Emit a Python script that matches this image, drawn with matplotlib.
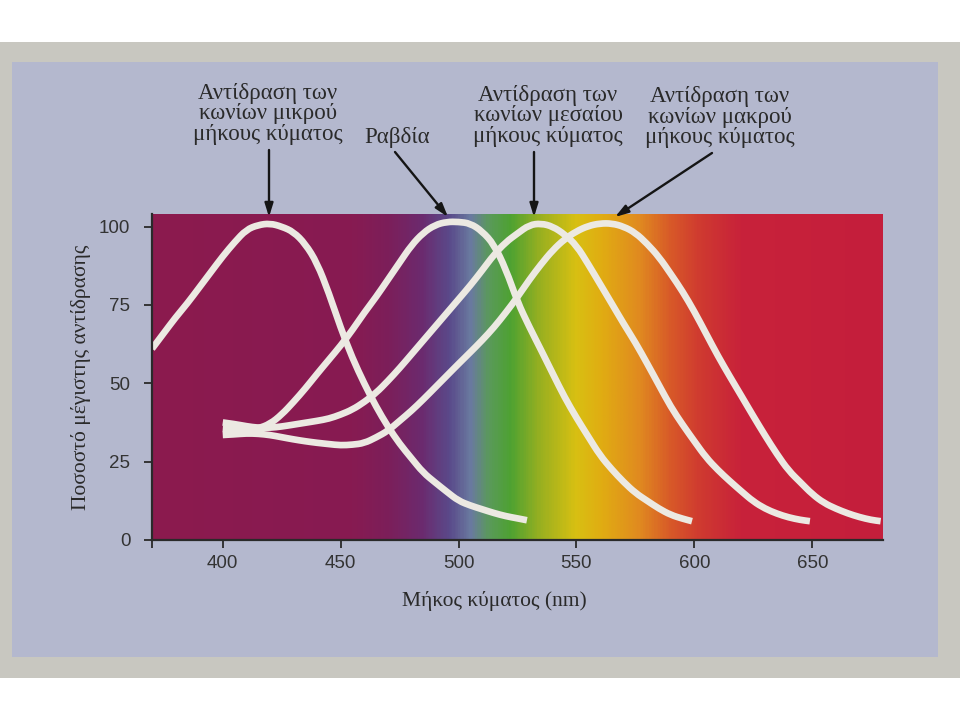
import matplotlib.pyplot as plt
import numpy as np
from matplotlib.colors import LinearSegmentedColormap
from matplotlib.patches import PathPatch, Rectangle
from matplotlib.path import Path

# wavelength grids (nm) and relative response (%)
s_nm = [370, 375, 380, 385, 390, 395, 400, 405, 410, 415, 420, 425, 430, 435,
        440, 445, 450, 455, 460, 465, 470, 475, 480, 485, 490, 495, 500, 505,
        510, 515, 520, 525, 529]
s_resp = [61, 66, 71, 75.5, 80.5, 85.5, 90.5, 95, 99, 100.5, 101, 100, 98.3, 94.5,
          88.4, 78.8, 67.7, 58, 49.9, 42.6, 36.2, 30.7, 26.1, 21.5, 18.4, 15.4, 12.5, 11,
          9.8, 8.6, 7.6, 6.9, 6.3]

rod_nm = [400, 405, 410, 415, 420, 425, 430, 435, 440, 445, 450, 455, 460, 465,
          470, 475, 480, 485, 490, 495, 500, 505, 510, 515, 520, 525, 530, 535,
          540, 545, 550, 555, 560, 565, 570, 575, 580, 585, 590, 595, 599]
rod_resp = [35.5, 35.2, 35, 35.6, 37, 40, 44, 48.3, 53, 57.5, 62, 67, 72.5, 77.5,
            83, 88.5, 94, 98, 100.5, 101.5, 101.5, 101, 98.5, 94.3, 86.5, 76, 68, 60.6,
            53, 45.5, 39, 33, 27, 22.5, 18.5, 15, 12.5, 10, 8, 6.8, 6]

m_nm = [400, 405, 410, 415, 420, 425, 430, 435, 440, 445, 450, 455, 460, 465,
        470, 475, 480, 485, 490, 495, 500, 505, 510, 515, 520, 525, 530, 535,
        540, 545, 550, 555, 560, 565, 570, 575, 580, 585, 590, 595, 600, 605,
        610, 615, 620, 625, 630, 635, 640, 645, 649]
m_resp = [37.5, 37, 36.3, 35.8, 35.8, 36.2, 36.8, 37.4, 38, 38.7, 40, 41.6, 44, 46.9,
          50.7, 54.8, 59.2, 63.6, 68, 72.4, 76.8, 81.2, 86, 91, 95, 97.8, 100.5, 101,
          100, 97.5, 94, 88, 81.7, 75.4, 69, 63, 56.3, 49.4, 42.5, 36.8, 31.5, 26.3,
          22.3, 18.8, 15.5, 12.3, 10, 8.4, 7.2, 6.4, 6]

l_nm = [400, 405, 410, 415, 420, 425, 430, 435, 440, 445, 450, 455, 460, 465,
        470, 475, 480, 485, 490, 495, 500, 505, 510, 515, 520, 525, 530, 535,
        540, 545, 550, 555, 560, 565, 570, 575, 580, 585, 590, 595, 600, 605,
        610, 615, 620, 625, 630, 635, 640, 645, 650, 655, 660, 665, 670, 675, 679]
l_resp = [33.5, 33.7, 34, 33.9, 33.5, 32.8, 32.1, 31.5, 31, 30.6, 30.2, 30.4, 30.9, 32.7,
          34.8, 38, 41.2, 44.8, 48.6, 52.4, 56.2, 59.9, 63.7, 67.8, 72.5, 77.5, 83, 88,
          92.5, 96, 98.5, 100.2, 101, 101, 100, 98, 94.5, 90.3, 84.9, 79.3, 72.9, 65.8,
          58.7, 52.2, 45.9, 39.5, 33.3, 27.4, 22.1, 18.4, 14.6, 11.8, 10, 8.5, 7.3, 6.4, 6]

# spectrum colour stops behind the curves
spec_nm = [370, 455, 470, 484, 496, 505, 513, 522, 535, 550, 560, 577, 590, 603, 620, 680]
spec_col = ["#8c1a4e", "#871b52", "#7c1f5a", "#6c2a6e", "#5a4a8a", "#6a7aa0", "#5a9a5a",
            "#4ea232", "#9ab020", "#d8c012", "#e0ae12", "#e08a20", "#d85a28", "#cf3a30",
            "#c8223a", "#c41e3c"]

xticks = [400, 450, 500, 550, 600, 650]
yticks = [0, 25, 50, 75, 100]

labels = [
    ("Αντίδραση των\nκωνίων μικρού\nμήκους κύματος", (268, 114), (269, 150), (269, 217)),
    ("Ραβδία", (397, 137), (395, 152), (448, 217)),
    ("Αντίδραση των\nκωνίων μεσαίου\nμήκους κύματος", (548, 116), (534, 152), (534, 217)),
    ("Αντίδραση των\nκωνίων μακρού\nμήκους κύματος", (720, 117), (712, 153), (615, 217)),
]

SERIF = ["Liberation Serif", "DejaVu Serif"]
SANS = ["Liberation Sans", "DejaVu Sans"]


def smooth_path(xs, ys):
    # quadratic bezier through the read points, drawn in data space
    pts = np.column_stack([xs, ys]).astype(float)
    verts = [pts[0]]
    codes = [Path.MOVETO]
    for i in range(1, len(pts) - 1):
        verts += [pts[i], (pts[i] + pts[i + 1]) / 2]
        codes += [Path.CURVE3, Path.CURVE3]
    verts.append(pts[-1])
    codes.append(Path.LINETO)
    return Path(verts, codes)


fig = plt.figure(figsize=(9.6, 7.2), dpi=100)
fig.patch.set_facecolor("white")

# paper and the tinted panel of the photographed page
fig.add_artist(Rectangle((0, 42 / 720), 1, 636 / 720, transform=fig.transFigure,
                         facecolor="#c8c7c0", edgecolor="none", zorder=-3))
fig.add_artist(Rectangle((12 / 960, 63 / 720), 926 / 960, 595 / 720, transform=fig.transFigure,
                         facecolor="#b4b8ce", edgecolor="none", zorder=-2))

ax = fig.add_axes([152 / 960, 180 / 720, 731 / 960, 326 / 720])
ax.set_facecolor("none")

xmin, xmax, ymin, ymax = 370, 680, 0, 104
stops = [(n - xmin) / (xmax - xmin) for n in spec_nm]
cmap = LinearSegmentedColormap.from_list("spec", list(zip(stops, spec_col)))
grad = np.linspace(0, 1, 600)[None, :]
ax.imshow(grad, cmap=cmap, aspect="auto", extent=(xmin, xmax, ymin, ymax),
          interpolation="bilinear", zorder=0)

for nm, resp in [(s_nm, s_resp), (rod_nm, rod_resp), (m_nm, m_resp), (l_nm, l_resp)]:
    ax.add_patch(PathPatch(smooth_path(nm, resp), facecolor="none", edgecolor="#ece9e2",
                           lw=4.8, capstyle="butt", joinstyle="round", zorder=2))

ax.set_xlim(xmin, xmax)
ax.set_ylim(ymin, ymax)
ax.set_xticks(xticks)
ax.set_xticks([370], minor=True)
ax.set_yticks(yticks)
ax.tick_params(axis="both", which="both", direction="out", length=5.5, width=1.3,
               color="#2a2a2a", labelcolor="#333333", labelsize=13.5)
ax.tick_params(axis="x", pad=5.5)
ax.tick_params(axis="y", pad=10)
for lab in ax.get_xticklabels() + ax.get_yticklabels():
    lab.set_family(SANS)
for side in ("top", "right"):
    ax.spines[side].set_visible(False)
for side in ("left", "bottom"):
    ax.spines[side].set_color("#2a2a2a")
    ax.spines[side].set_linewidth(1.6)

ax.set_xlabel("Μήκος κύματος (nm)", family=SERIF, fontsize=15.5, color="#2a2a2a")
ax.xaxis.set_label_coords(0.468, -0.155)
ax.set_ylabel("Ποσοστό μέγιστης αντίδρασης", family=SERIF, fontsize=15.5, color="#2a2a2a")
ax.yaxis.set_label_coords(-0.083, 0.5)


# annotations, positioned in pixel space of the figure
def px(x, y):
    return (x / 960, 1 - y / 720)


for text, tpos, tail, tip in labels:
    fig.text(*px(*tpos), text, family=SERIF, fontsize=16.5, color="#2a2a2a",
             ha="center", va="center", linespacing=0.95)
    ax.annotate("", xy=px(*tip), xycoords="figure fraction",
                xytext=px(*tail), textcoords="figure fraction",
                arrowprops=dict(arrowstyle="-|>,head_length=0.8,head_width=0.25",
                                color="#151515", lw=1.7, shrinkA=0, shrinkB=0),
                annotation_clip=False, zorder=5)

fig.savefig("out.png", dpi=100, facecolor=fig.get_facecolor())
